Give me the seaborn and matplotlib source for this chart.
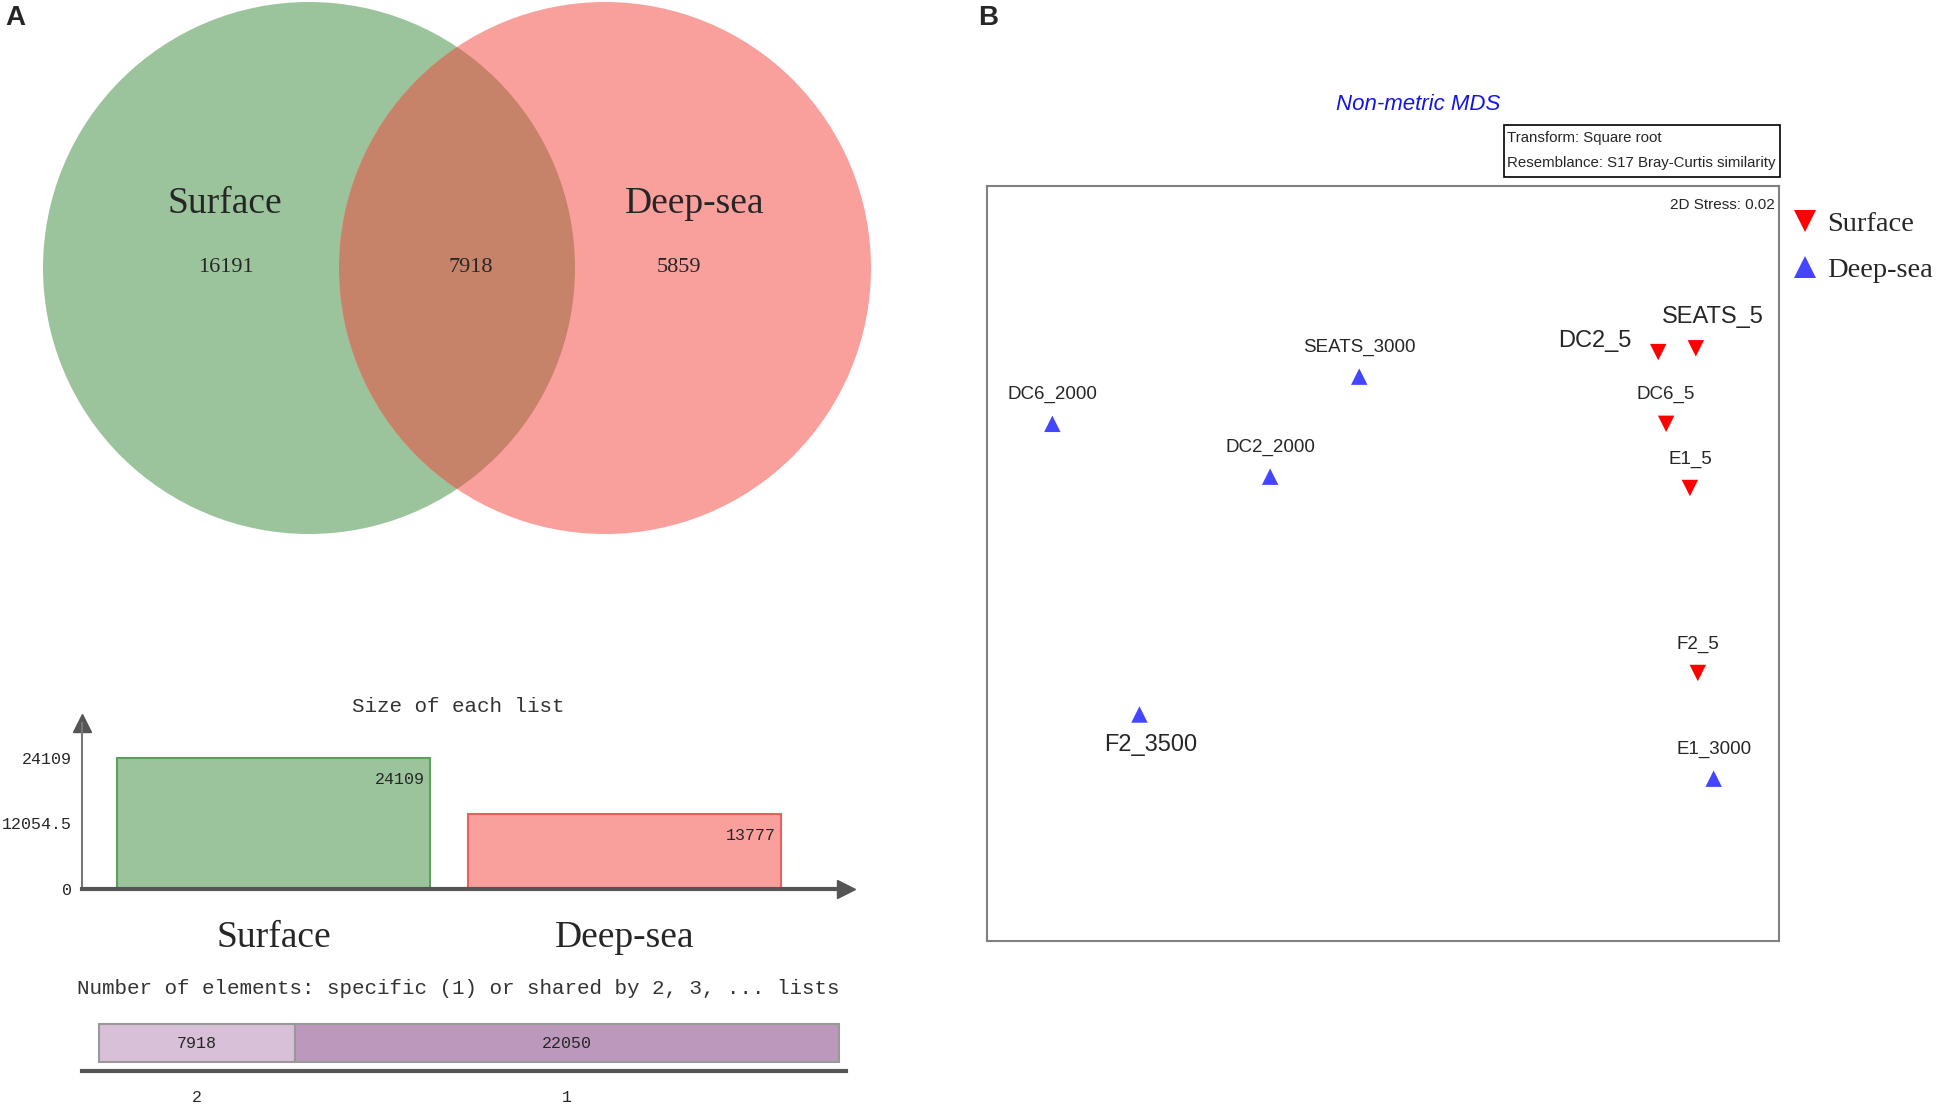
import numpy as np
import pandas as pd
import matplotlib
matplotlib.use("Agg")
import matplotlib.pyplot as plt
from matplotlib.patches import Circle, Rectangle
import seaborn as sns

# ---- data ----
venn_sets = ["Surface", "Deep-sea"]
venn_only = [16191, 5859]
venn_shared = 7918

list_sizes = [24109, 13777]

shared_levels = ["2", "1"]
shared_counts = [7918, 22050]

mds_samples = ["SEATS_5", "DC2_5", "DC6_5", "E1_5", "F2_5",
               "E1_3000", "SEATS_3000", "DC6_2000", "DC2_2000", "F2_3500"]
mds_group = ["Surface", "Surface", "Surface", "Surface", "Surface",
             "Deep-sea", "Deep-sea", "Deep-sea", "Deep-sea", "Deep-sea"]
mds_x = [1.58, 1.39, 1.43, 1.55, 1.59, 1.67, -0.12, -1.67, -0.57, -1.23]
mds_y = [1.14, 1.12, 0.74, 0.40, -0.58, -1.14, 0.99, 0.74, 0.46, -0.80]

# ---- style ----
sns.set_style("white")
SERIF = "Liberation Serif"
MONO = "Liberation Mono"
SANS = "Liberation Sans"
plt.rcParams["font.family"] = [SANS, "DejaVu Sans"]

GREEN, GREEN_EDGE = "#9CC49C", "#5E9E5E"
RED, RED_EDGE = "#F9A09D", "#E8605C"
OVERLAP = "#C7836A"
GRAY = "#555555"

W, H = 1937, 1107
fig = plt.figure(figsize=(W / 100, H / 100), dpi=100)


def fx(x):
    return x / W


def fy(y):
    return 1 - y / H


# panel letters
fig.text(fx(15), fy(18), "A", fontsize=20, fontweight="bold", ha="center", va="center")
fig.text(fx(988), fy(18), "B", fontsize=20, fontweight="bold", ha="center", va="center")

# ---- Venn diagram ----
ax_v = fig.add_axes([0, fy(560), fx(968), 560 / H])
ax_v.set_xlim(0, 968)
ax_v.set_ylim(560, 0)
ax_v.axis("off")
r = 266
c_left, c_right = (309, 268), (605, 268)
ax_v.add_patch(Circle(c_left, r, color=GREEN, lw=0))
red_circle = Circle(c_right, r, color=RED, lw=0)
ax_v.add_patch(red_circle)
lens = Circle(c_left, r, color=OVERLAP, lw=0)
ax_v.add_patch(lens)
lens.set_clip_path(red_circle)

ax_v.text(225, 204, venn_sets[0], fontsize=27, family=SERIF, ha="center", va="center")
ax_v.text(695, 204, venn_sets[1], fontsize=27, family=SERIF, ha="center", va="center")
ax_v.text(226, 268, str(venn_only[0]), fontsize=16, family=SERIF, ha="center", va="center")
ax_v.text(471, 268, str(venn_shared), fontsize=16, family=SERIF, ha="center", va="center")
ax_v.text(679, 268, str(venn_only[1]), fontsize=16, family=SERIF, ha="center", va="center")

# ---- size of each list ----
ax_b = fig.add_axes([fx(82), fy(889), (846 - 82) / W, (889 - 723) / H])
size_df = pd.DataFrame({"list": venn_sets, "size": list_sizes})
sns.barplot(data=size_df, x="list", y="size", hue="list", palette=[GREEN, RED],
            width=0.89, saturation=1, legend=False, ax=ax_b)
for p, ec in zip(ax_b.patches, [GREEN_EDGE, RED_EDGE]):
    p.set_edgecolor(ec)
    p.set_linewidth(1.5)
for p, v in zip(ax_b.patches, list_sizes):
    ax_b.annotate(str(v), xy=(p.get_x() + p.get_width(), p.get_height()),
                  xytext=(-5, -14), textcoords="offset pixels",
                  ha="right", va="top", fontsize=12, family=MONO)
top = max(list_sizes)
ax_b.set_xlim(-0.546, 1.631)
ax_b.set_ylim(0, top * 1.267)
ax_b.set_yticks([0, top / 2, top])
ax_b.set_yticklabels([f"{v:g}" for v in [0, top / 2, top]], family=MONO, fontsize=12)
ax_b.set_xticks([0, 1])
ax_b.set_xticklabels(venn_sets, family=SERIF, fontsize=27)
ax_b.tick_params(axis="x", length=8, color="#888888", pad=15)
ax_b.tick_params(axis="y", length=5, color="#888888", pad=2)
ax_b.set_xlabel("")
ax_b.set_ylabel("")
for s in ["top", "right"]:
    ax_b.spines[s].set_visible(False)
ax_b.spines["left"].set_color("#777777")
ax_b.spines["left"].set_linewidth(1.5)
ax_b.spines["bottom"].set_color(GRAY)
ax_b.spines["bottom"].set_linewidth(3)
ax_b.plot(1, 0, marker=">", ms=13, color=GRAY, transform=ax_b.transAxes, clip_on=False)
ax_b.plot(0, 1, marker="^", ms=13, color=GRAY, transform=ax_b.transAxes, clip_on=False)
fig.text(fx(458), fy(706), "Size of each list", family=MONO, fontsize=15,
         ha="center", va="center", color="#333333")

# ---- shared / specific counts ----
fig.text(fx(458), fy(988), "Number of elements: specific (1) or shared by 2, 3, ... lists",
         family=MONO, fontsize=15, ha="center", va="center", color="#333333")
ax_s = fig.add_axes([fx(82), fy(1071), (846 - 82) / W, (1071 - 1015) / H])
lefts = np.concatenate([[0], np.cumsum(shared_counts)[:-1]])
ax_s.barh(0.5, shared_counts, left=lefts, height=0.68,
          color=["#D8C0D8", "#BC98BC"], edgecolor="#999999", linewidth=1.5)
centers = lefts + np.array(shared_counts) / 2
for c, v in zip(centers, shared_counts):
    ax_s.text(c, 0.5, str(v), family=MONO, fontsize=12, ha="center", va="center")
total = sum(shared_counts)
ax_s.set_xlim(-total * 0.023, total * 1.0094)
ax_s.set_ylim(0, 1)
ax_s.set_xticks(centers)
ax_s.set_xticklabels(shared_levels, family=MONO, fontsize=12)
ax_s.set_yticks([])
ax_s.tick_params(axis="x", length=8, color="#888888", pad=6)
for s in ["top", "right", "left"]:
    ax_s.spines[s].set_visible(False)
ax_s.spines["bottom"].set_color(GRAY)
ax_s.spines["bottom"].set_linewidth(3)

# ---- NMDS ----
ax_m = fig.add_axes([fx(987), fy(941), 792 / W, 755 / H])
mds_df = pd.DataFrame({"sample": mds_samples, "group": mds_group,
                       "MDS1": mds_x, "MDS2": mds_y})
sns.scatterplot(data=mds_df, x="MDS1", y="MDS2", hue="group", style="group",
                markers={"Surface": "v", "Deep-sea": "^"},
                palette={"Surface": "#FF0000", "Deep-sea": "#4545FF"},
                s=140, linewidth=0, ax=ax_m)
ax_m.set_xlim(-2, 2)
ax_m.set_ylim(-2, 2)
ax_m.set_xticks([])
ax_m.set_yticks([])
ax_m.set_xlabel("")
ax_m.set_ylabel("")
for s in ax_m.spines.values():
    s.set_color("#808080")
    s.set_linewidth(1.5)

big_labels = {"SEATS_5": (17, 31), "DC2_5": (-63, 11), "F2_3500": (11, -30)}
for name, x, y in zip(mds_samples, mds_x, mds_y):
    off = big_labels.get(name, (0, 29))
    size = 17 if name in big_labels else 13.5
    ax_m.annotate(name, (x, y), xytext=off, textcoords="offset pixels",
                  ha="center", va="center", fontsize=size, family=SANS)

ax_m.text(0.995, 0.975, "2D Stress: 0.02", transform=ax_m.transAxes,
          ha="right", va="center", fontsize=11, family=SANS)

handles, labels = ax_m.get_legend_handles_labels()
ax_m.legend(handles, labels, loc="upper left", bbox_to_anchor=(1.0, 0.982),
            frameon=False, prop={"family": SERIF, "size": 20.5},
            handlelength=1.0, handletextpad=0.3, labelspacing=0.7,
            borderaxespad=0, markerscale=1.3)

fig.text(fx(1418), fy(104), "Non-metric MDS", color="#1515E0", style="italic",
         fontsize=16, family=SANS, ha="center", va="center")
fig.add_artist(Rectangle((fx(1504), fy(177)), (1780 - 1504) / W, (177 - 125) / H,
                         transform=fig.transFigure, fill=False, ec="black", lw=1.2))
fig.text(fx(1507), fy(138), "Transform: Square root", fontsize=10.8, family=SANS,
         ha="left", va="center")
fig.text(fx(1507), fy(163), "Resemblance: S17 Bray-Curtis similarity", fontsize=10.8,
         family=SANS, ha="left", va="center")

fig.savefig("out.png", dpi=100)
